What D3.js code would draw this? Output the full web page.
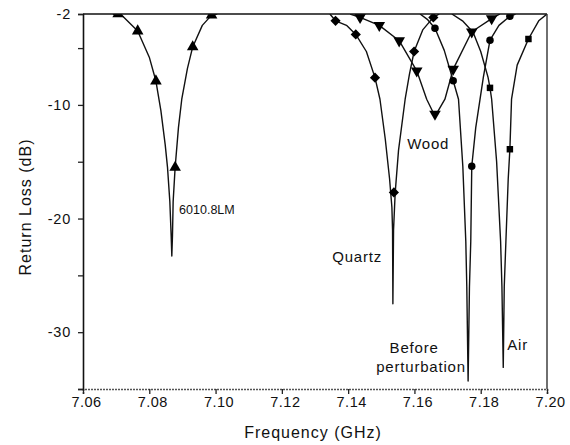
<!DOCTYPE html>
<html>
<head>
<meta charset="utf-8">
<script src="https://cdn.jsdelivr.net/npm/d3@7"></script>
<style>
    body { margin: 0; background: #fff; }
    svg text { font-family: "Liberation Sans", Arial, sans-serif; fill: #111; }
</style>
</head>
<body>
<div id="chart"></div>
<script>
// frequency (GHz), return loss (dB)
var lm6010Curve = [[7.0690,-2.0],[7.0720,-2.2],[7.0765,-3.5],[7.0800,-5.8],[7.0820,-7.9],[7.0835,-10.5],[7.0848,-13.5],[7.0855,-15.5],[7.0862,-18.5],[7.0866,-21.5],[7.0868,-23.3],
                   [7.0870,-21.5],[7.0872,-18.5],[7.0878,-15.5],[7.0888,-12.0],[7.0898,-9.5],[7.0915,-6.8],[7.0931,-4.9],[7.0960,-3.0],[7.0988,-2.1],[7.1005,-2.0]];
var quartzCurve = [[7.1345,-2.0],[7.1362,-2.6],[7.1395,-3.0],[7.1423,-3.8],[7.1455,-5.3],[7.1481,-7.6],[7.1496,-9.5],[7.1512,-13.0],[7.1525,-16.5],[7.1532,-19.0],[7.1534,-21.0],[7.1535,-27.5],
                   [7.1537,-21.0],[7.1540,-19.0],[7.1542,-17.7],[7.1552,-14.0],[7.1572,-9.5],[7.1585,-7.3],[7.1599,-5.3],[7.1625,-3.4],[7.1657,-2.3],[7.1675,-2.0]];
var woodCurve = [[7.1406,-2.0],[7.1436,-2.3],[7.1494,-3.0],[7.1554,-4.35],[7.1607,-7.0],[7.1637,-9.5],[7.1662,-11.0],
                 [7.1692,-9.5],[7.1717,-6.85],[7.1773,-3.56],[7.1833,-2.4],[7.1858,-2.0]];
var beforeCurve = [[7.1617,-2.0],[7.1640,-2.5],[7.1662,-3.26],[7.1690,-5.2],[7.1717,-7.87],[7.1733,-9.5],[7.1746,-15.4],[7.1755,-22.0],[7.1758,-26.0],[7.1762,-34.3],
                   [7.1766,-26.0],[7.1770,-22.0],[7.1773,-15.4],[7.1785,-12.0],[7.1798,-9.5],[7.1808,-7.55],[7.1828,-4.3],[7.1855,-3.0],[7.1888,-2.2],[7.1905,-2.0]];
var airCurve = [[7.1713,-2.0],[7.1745,-2.6],[7.1777,-3.6],[7.1800,-5.3],[7.1822,-7.55],[7.1828,-8.5],[7.1833,-9.5],[7.1848,-15.0],[7.1860,-22.0],[7.1864,-26.0],[7.1868,-33.1],
                [7.1871,-26.0],[7.1876,-22.0],[7.1883,-16.5],[7.1888,-13.9],[7.1893,-9.5],[7.1910,-6.5],[7.1944,-4.2],[7.1975,-2.6],[7.2000,-2.0]];

var lm6010Marks = [[7.0706,-2.0],[7.0765,-3.5],[7.0820,-7.9],[7.0878,-15.5],[7.0931,-4.9],[7.0988,-2.1]];
var quartzMarks = [[7.1362,-2.6],[7.1423,-3.8],[7.1481,-7.6],[7.1538,-17.7],[7.1599,-5.3],[7.1657,-2.3]];
var woodMarks = [[7.1436,-2.3],[7.1494,-3.0],[7.1554,-4.35],[7.1607,-7.0],[7.1662,-10.8],[7.1717,-6.85],[7.1773,-3.56],[7.1833,-2.4]];
var beforeMarks = [[7.1662,-3.26],[7.1717,-7.87],[7.1773,-15.4],[7.1828,-4.3],[7.1888,-2.2]];
var airMarks = [[7.1828,-8.5],[7.1888,-13.9],[7.1944,-4.2]];

var xTicks = [7.06, 7.08, 7.10, 7.12, 7.14, 7.16, 7.18, 7.20];
var yTickLabels = [-2, -10, -20, -30];
var yMinorTicks = [-5, -15, -25, -35];

var seriesLabels = [
    {text: "6010.8LM", f: 7.0890, v: -19.2, anchor: "start", size: 12.5},
    {text: "Wood", f: 7.1578, v: -13.4, anchor: "start", size: 15},
    {text: "Quartz", f: 7.1352, v: -23.4, anchor: "start", size: 15},
    {text: "Before", f: 7.1599, v: -31.4, anchor: "middle", size: 15},
    {text: "perturbation", f: 7.1620, v: -33.0, anchor: "middle", size: 15},
    {text: "Air", f: 7.1880, v: -31.1, anchor: "start", size: 15}
];

var width = 570, height = 445;
var margin = {top: 14, right: 23, bottom: 56, left: 83};

var xScale = d3.scaleLinear()
    .domain([7.06, 7.20])
    .range([margin.left, width - margin.right]);
var yScale = d3.scaleLinear()
    .domain([-35, -2])
    .range([height - margin.bottom, margin.top]);

var svg = d3.select("#chart").append("svg")
    .attr("width", width)
    .attr("height", height);

svg.append("clipPath").attr("id", "plotClip")
    .append("rect")
    .attr("x", margin.left)
    .attr("y", margin.top)
    .attr("width", xScale(7.20) - margin.left)
    .attr("height", yScale(-35) - margin.top);

var lineGen = d3.line()
    .x(d => xScale(d[0]))
    .y(d => yScale(d[1]));

var plot = svg.append("g").attr("clip-path", "url(#plotClip)");

[lm6010Curve, quartzCurve, woodCurve, beforeCurve, airCurve].forEach(function(c) {
    plot.append("path")
        .attr("d", lineGen(c))
        .attr("fill", "none")
        .attr("stroke", "#111")
        .attr("stroke-width", 1.4)
        .attr("stroke-linejoin", "round");
});

function addMarks(arr, type, size, rot) {
    var sym = d3.symbol().type(type).size(size);
    plot.selectAll(null)
        .data(arr).enter()
        .append("path")
        .attr("d", sym())
        .attr("transform", d => "translate(" + xScale(d[0]) + "," + yScale(d[1]) + ") rotate(" + rot + ")")
        .attr("fill", "#000");
}
addMarks(lm6010Marks, d3.symbolTriangle, 58, 0);
addMarks(quartzMarks, d3.symbolSquare, 52, 45);
addMarks(woodMarks, d3.symbolTriangle, 58, 180);
addMarks(beforeMarks, d3.symbolCircle, 44, 0);
addMarks(airMarks, d3.symbolSquare, 42, 0);

// frame: top and right borders
svg.append("line")
    .attr("x1", margin.left).attr("x2", xScale(7.20))
    .attr("y1", yScale(-2)).attr("y2", yScale(-2))
    .attr("stroke", "#111").attr("stroke-width", 1.6);
svg.append("line")
    .attr("x1", xScale(7.20)).attr("x2", xScale(7.20))
    .attr("y1", yScale(-2)).attr("y2", yScale(-35))
    .attr("stroke", "#333").attr("stroke-width", 1.4);

var xAxis = d3.axisBottom(xScale)
    .tickValues(xTicks)
    .tickFormat(d3.format(".2f"))
    .tickSize(5)
    .tickPadding(3);

var gx = svg.append("g")
    .attr("transform", "translate(0," + yScale(-35) + ")")
    .call(xAxis);
gx.select(".domain")
    .attr("stroke", "#555")
    .attr("stroke-width", 1.6)
    .attr("stroke-dasharray", "2,1");
gx.selectAll(".tick line").attr("stroke", "#222").attr("stroke-width", 1.3);
gx.selectAll("text")
    .style("font-size", "14.5px")
    .style("letter-spacing", "0.5px")
    .attr("dx", "3px")
    .attr("fill", "#111");

var yAxis = d3.axisLeft(yScale)
    .tickValues(yTickLabels.concat(yMinorTicks))
    .tickFormat(d => yTickLabels.indexOf(d) >= 0 ? d : "")
    .tickSize(5)
    .tickPadding(7);

var gy = svg.append("g")
    .attr("transform", "translate(" + margin.left + ",0)")
    .call(yAxis);
gy.select(".domain").attr("stroke", "#111").attr("stroke-width", 1.6);
gy.selectAll(".tick line").attr("stroke", "#222").attr("stroke-width", 1.3);
gy.selectAll("text")
    .style("font-size", "14.5px")
    .style("letter-spacing", "0.8px")
    .attr("fill", "#111");

svg.selectAll(".serieLabel")
    .data(seriesLabels).enter()
    .append("text")
    .attr("class", "serieLabel")
    .attr("x", d => xScale(d.f))
    .attr("y", d => yScale(d.v))
    .attr("dy", "0.35em")
    .style("text-anchor", d => d.anchor)
    .style("font-size", d => d.size + "px")
    .style("letter-spacing", d => d.size > 13 ? "0.8px" : "0px")
    .text(d => d.text);

svg.append("text")
    .attr("x", 313)
    .attr("y", 432)
    .attr("dy", "0.35em")
    .style("text-anchor", "middle")
    .style("font-size", "16px")
    .style("letter-spacing", "1px")
    .text("Frequency (GHz)");

svg.append("text")
    .attr("transform", "rotate(-90)")
    .attr("x", -207)
    .attr("y", 25)
    .attr("dy", "0.35em")
    .style("text-anchor", "middle")
    .style("font-size", "16px")
    .style("letter-spacing", "1px")
    .text("Return Loss (dB)");
</script>
</body>
</html>
